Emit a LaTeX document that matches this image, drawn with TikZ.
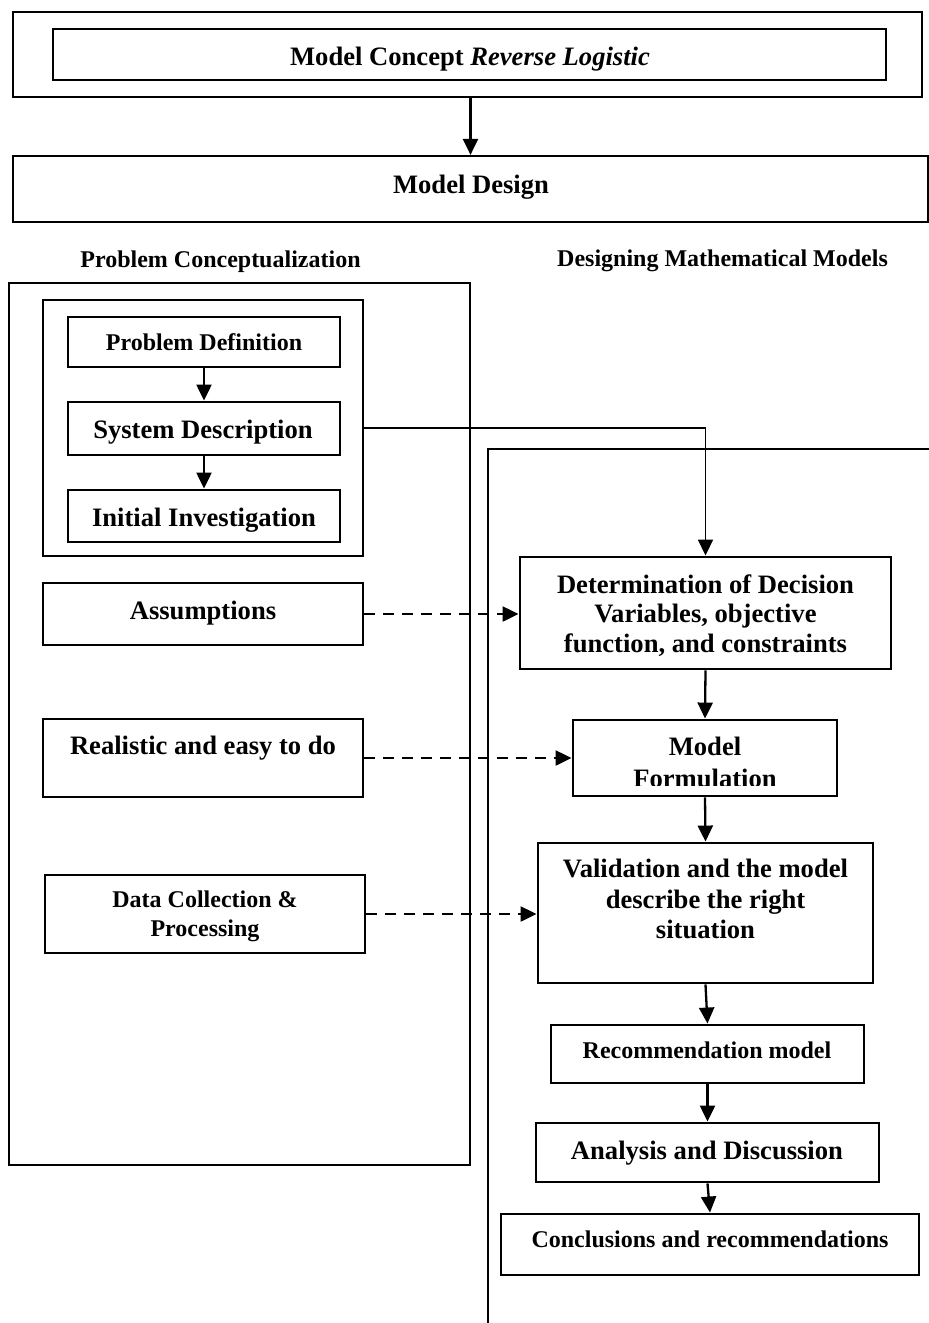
\documentclass[tikz,border=0pt]{standalone}
\usepackage{fontspec}
\setmainfont{Liberation Serif}
\usetikzlibrary{arrows.meta}
\begin{document}
\begin{tikzpicture}[x=1pt,y=-1pt,
  box/.style={draw, line width=2.9pt, inner sep=0pt, rectangle},
  thinbox/.style={draw, line width=2pt, inner sep=0pt, rectangle},
  frame/.style={draw, line width=1.9pt},
  big/.style={font=\bfseries\fontsize{26.6pt}{30pt}\selectfont, inner sep=0pt, align=center},
  small/.style={font=\bfseries\fontsize{24pt}{29pt}\selectfont, inner sep=0pt, align=center},
  arr/.style={line width=2.3pt, -{Triangle[length=16pt,width=15pt]}},
  thinarr/.style={line width=1.8pt, -{Triangle[length=16pt,width=15pt]}},
  darr/.style={arr, dash pattern=on 11pt off 8pt},
]
\useasboundingbox (0,0) rectangle (929,1323);
\fill[white] (0,0) rectangle (929,1323);

% top part
\node[thinbox, line width=2.1pt, minimum width=909pt, minimum height=85pt] (outer) at (467.5,54.5) {};
\node[box, minimum width=833pt, minimum height=51pt] (mc) at (469.5,54.5) {};
\node[big, anchor=base] (mcT) at (470,65) {Model Concept \textit{Reverse Logistic}};
\node[thinbox, line width=2.2pt, minimum width=915pt, minimum height=66pt] (md) at (470.5,189) {};
\node[big, anchor=base] (mdT) at (471,193) {Model Design};
\draw[arr] (md.north |- outer.south) -- (md.north);

% headings
\node[small, anchor=base] (pcT) at (220.5,267) {Problem Conceptualization};
\node[small, anchor=base] (dmT) at (722.5,266) {Designing Mathematical Models};

% frames
\draw[frame] (9,283) rectangle (470,1165);
\draw[frame] (929,449) -- (488,449) -- (488,1323);

% left column
\node[thinbox, minimum width=320pt, minimum height=256pt] (inner) at (203,428) {};
\node[box, minimum width=272pt, minimum height=50pt] (pd) at (204,342) {};
\node[small, anchor=base] (pdT) at (204,350) {Problem Definition};
\node[box, minimum width=272pt, minimum height=53pt] (sd) at (204,428.5) {};
\node[big, anchor=base] (sdT) at (203,438) {System Description};
\node[box, minimum width=272pt, minimum height=52pt] (ii) at (204,516) {};
\node[big, anchor=base] (iiT) at (204,526) {Initial Investigation};
\draw[arr] (pd.south) -- (sd.north);
\draw[arr] (sd.south) -- (ii.north);

\node[box, minimum width=320pt, minimum height=62pt] (ass) at (203,614) {};
\node[big, anchor=base] (assT) at (203,619) {Assumptions};
\node[box, minimum width=320pt, minimum height=78pt] (real) at (203,758) {};
\node[big, anchor=base] (realT) at (203,754) {Realistic and easy to do};
\node[box, minimum width=320pt, minimum height=78pt] (data) at (205,914) {};
\node[small, font=\bfseries\fontsize{24pt}{29pt}\selectfont] (dataT) at (205,916.5) {Data Collection \&\\Processing};

% right column
\node[box, minimum width=371pt, minimum height=112pt] (det) at (705.5,613) {};
\node[big, font=\bfseries\fontsize{26.6pt}{29.5pt}\selectfont] (detT) at (705.5,615.3) {Determination of Decision\\Variables, objective\\function, and constraints};
\node[box, minimum width=264pt, minimum height=76pt] (mf) at (705,758) {};
\begin{scope}
\clip (573,720) rectangle (837,785);
\node[big, font=\bfseries\fontsize{26.6pt}{32pt}\selectfont] (mfT) at (705,762) {Model\\Formulation};
\end{scope}
\node[box, minimum width=335pt, minimum height=140pt] (val) at (705.5,913) {};
\node[big, font=\bfseries\fontsize{26.6pt}{30.5pt}\selectfont] (valT) at (705.5,899) {Validation and the model\\describe the right\\situation};
\node[box, minimum width=313pt, minimum height=58pt] (rec) at (707.5,1054) {};
\node[small, anchor=base] (recT) at (707,1058) {Recommendation model};
\node[box, minimum width=343pt, minimum height=59pt] (ana) at (707.5,1152.5) {};
\node[big, anchor=base] (anaT) at (707,1159) {Analysis and Discussion};
\node[box, minimum width=418pt, minimum height=61pt] (con) at (710,1244.5) {};
\node[small, anchor=base] (conT) at (710,1247) {Conclusions and recommendations};

% connectors
\draw[thinarr] (inner.east) -| (det.north);
\draw[arr] (det.south) -- (mf.north);
\draw[arr] (mf.south) -- (val.north);
\draw[arr] (val.south) -- (rec.north);
\draw[arr] (rec.south) -- (ana.north);
\draw[arr] (ana.south) -- (con.north);

\draw[darr] (ass.east) -- (ass.east -| det.west);
\draw[darr] (real.east) -- (real.east -| mf.west);
\draw[darr] (data.east) -- (data.east -| val.west);
\end{tikzpicture}
\end{document}
